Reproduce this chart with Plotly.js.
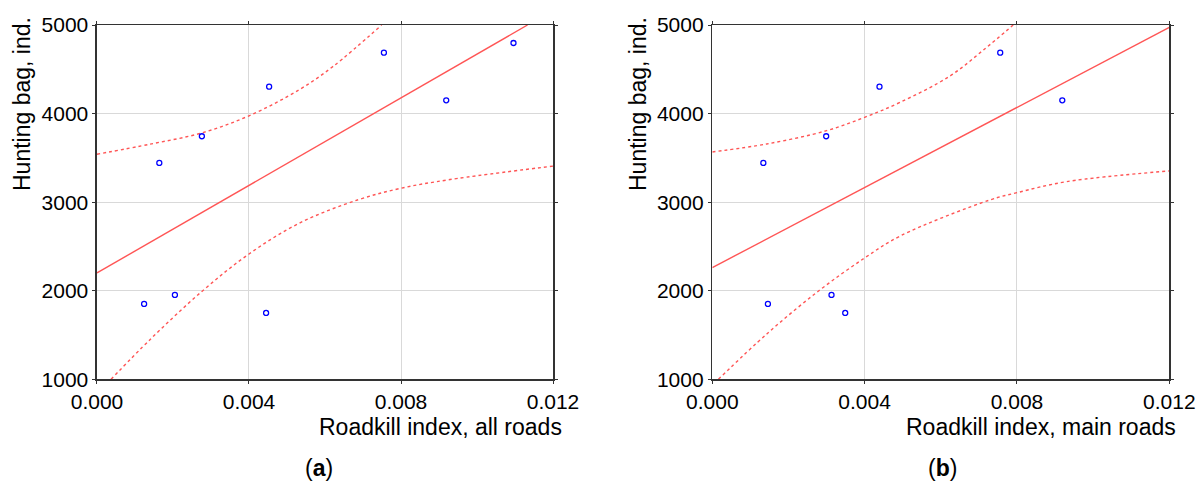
<!DOCTYPE html>
<html>
<head>
<meta charset="utf-8">
<script src="https://cdn.plot.ly/plotly-3.0.1.min.js"></script>
<style>html,body{margin:0;padding:0;background:#fff;}#chart{width:1203px;height:482px;}</style>
</head>
<body>
<div id="chart"></div>
<script>
// Panel (a): all roads
const aPointsX = [0.00164, 0.00276, 0.00453, 0.00755, 0.00919, 0.01096, 0.00124, 0.00205, 0.00445];
const aPointsY = [3443, 3744, 4304, 4688, 4150, 4797, 1851, 1953, 1749];
const aFitX = [0, 0.01133];
const aFitY = [2201, 5000];
const aUpperX = [0, 0.0014, 0.00276, 0.004, 0.00534, 0.00622, 0.00749];
const aUpperY = [3541, 3655, 3782, 3975, 4274, 4535, 5000];
const aLowerX = [0.00037, 0.0014, 0.00276, 0.004, 0.00534, 0.00688, 0.008, 0.00929, 0.012];
const aLowerY = [1000, 1450, 1992, 2415, 2766, 3028, 3157, 3255, 3407];

// Panel (b): main roads
const bPointsX = [0.00134, 0.00299, 0.00439, 0.00756, 0.00919, 0.00146, 0.00313, 0.00349];
const bPointsY = [3443, 3744, 4304, 4688, 4150, 1851, 1953, 1749];
const bFitX = [0, 0.012];
const bFitY = [2261, 4974];
const bUpperX = [0, 0.00143, 0.0030, 0.004, 0.00493, 0.00624, 0.00712, 0.0079];
const bUpperY = [3567, 3657, 3807, 3958, 4127, 4424, 4718, 5000];
const bLowerX = [0.00016, 0.00143, 0.00279, 0.004, 0.00493, 0.00729, 0.008, 0.00931, 0.012];
const bLowerY = [1000, 1512, 1997, 2370, 2617, 3025, 3107, 3232, 3352];

const xTicks = [0, 0.004, 0.008, 0.012];
const xTickText = ["0.000", "0.004", "0.008", "0.012"];
const yTicks = [1000, 2000, 3000, 4000, 5000];

const FONT = "Liberation Sans, Arial, sans-serif";
const RED = "rgb(255,85,85)";
const BLUE = "#0000ff";

function panel(px, py, fx, fy, ux, uy, lx, ly, xa, ya) {
  return [
    {x: ux, y: uy, xaxis: xa, yaxis: ya, mode: "lines", line: {color: RED, width: 1.4, dash: "dot", shape: "spline"}, hoverinfo: "skip"},
    {x: lx, y: ly, xaxis: xa, yaxis: ya, mode: "lines", line: {color: RED, width: 1.4, dash: "dot", shape: "spline"}, hoverinfo: "skip"},
    {x: fx, y: fy, xaxis: xa, yaxis: ya, mode: "lines", line: {color: RED, width: 1.4}},
    {x: px, y: py, xaxis: xa, yaxis: ya, mode: "markers", marker: {symbol: "circle-open", size: 5, color: BLUE, line: {width: 1.3, color: BLUE}}}
  ];
}

const data = [].concat(
  panel(aPointsX, aPointsY, aFitX, aFitY, aUpperX, aUpperY, aLowerX, aLowerY, "x", "y"),
  panel(bPointsX, bPointsY, bFitX, bFitY, bUpperX, bUpperY, bLowerX, bLowerY, "x2", "y2")
);

function xax(domain, anchor) {
  return {
    domain: domain, anchor: anchor, range: [0, 0.012], tickvals: xTicks, ticktext: xTickText,
    showgrid: true, gridcolor: "#d9d9d9", gridwidth: 1, zeroline: false,
    showline: true, linecolor: "#333", linewidth: 1.5, mirror: "ticks",
    ticks: "outside", ticklen: 3, tickcolor: "#333",
    tickfont: {family: FONT, size: 21, color: "#000"}
  };
}
function yax(anchor) {
  return {
    domain: [0.2131, 0.9481], anchor: anchor, range: [1000, 5000], tickvals: yTicks,
    showgrid: true, gridcolor: "#d9d9d9", gridwidth: 1, zeroline: false,
    showline: true, linecolor: "#333", linewidth: 1.5, mirror: "ticks",
    ticks: "outside", ticklen: 3, tickcolor: "#333",
    tickfont: {family: FONT, size: 21, color: "#000"}
  };
}

const tf = {family: FONT, size: 23, color: "#000"};
const pf = {family: FONT, size: 23, color: "#000"};
const layout = {
  width: 1203, height: 482,
  margin: {l: 0, r: 0, t: 0, b: 0},
  paper_bgcolor: "#fff", plot_bgcolor: "#fff",
  showlegend: false,
  xaxis: xax([0.08063, 0.45969], "y"),
  yaxis: yax("x"),
  xaxis2: xax([0.59211, 0.97199], "y2"),
  yaxis2: yax("x2"),
  annotations: [
    {text: "Hunting bag, ind.", xref: "paper", yref: "paper", x: 22 / 1203, y: 1 - 104 / 482, textangle: -90, showarrow: false, xanchor: "center", yanchor: "middle", font: tf},
    {text: "Hunting bag, ind.", xref: "paper", yref: "paper", x: 638 / 1203, y: 1 - 104 / 482, textangle: -90, showarrow: false, xanchor: "center", yanchor: "middle", font: tf},
    {text: "Roadkill index, all roads", xref: "paper", yref: "paper", x: 440.5 / 1203, y: 1 - 427 / 482, showarrow: false, xanchor: "center", yanchor: "middle", font: tf},
    {text: "Roadkill index, main roads", xref: "paper", yref: "paper", x: 1041 / 1203, y: 1 - 427 / 482, showarrow: false, xanchor: "center", yanchor: "middle", font: tf},
    {text: "(<b>a</b>)", xref: "paper", yref: "paper", x: 319 / 1203, y: 1 - 468 / 482, showarrow: false, xanchor: "center", yanchor: "middle", font: pf},
    {text: "(<b>b</b>)", xref: "paper", yref: "paper", x: 942 / 1203, y: 1 - 468 / 482, showarrow: false, xanchor: "center", yanchor: "middle", font: pf}
  ]
};

Plotly.newPlot("chart", data, layout, {staticPlot: true, displayModeBar: false});
</script>
</body>
</html>
